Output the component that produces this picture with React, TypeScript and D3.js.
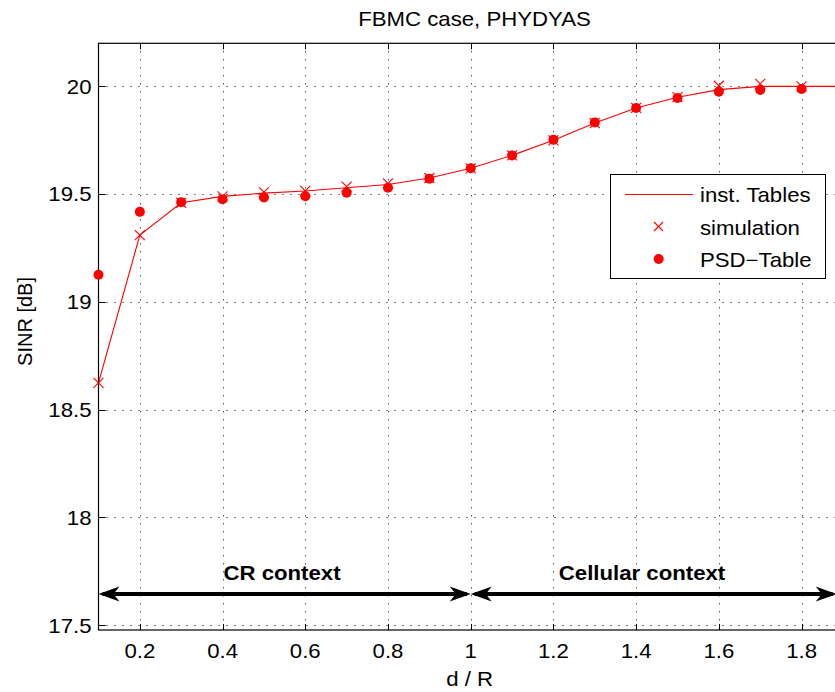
import React from "react";
import * as d3 from "d3";

const xs = [0.1, 0.2, 0.3, 0.4, 0.5, 0.6, 0.7, 0.8, 0.9, 1.0, 1.1, 1.2, 1.3, 1.4, 1.5, 1.6, 1.7, 1.8, 1.9, 2.0];
const instTables = [18.625, 19.31, 19.46, 19.49, 19.505, 19.515, 19.53, 19.545, 19.575, 19.62, 19.68, 19.75, 19.83, 19.9, 19.95, 19.985, 20.0, 20.0, 20.0, 20.0];
const simX = [0.1, 0.2, 0.3, 0.4, 0.5, 0.6, 0.7, 0.8, 0.9, 1.0, 1.1, 1.2, 1.3, 1.4, 1.5, 1.6, 1.7, 1.8];
const simulation = [18.625, 19.31, 19.46, 19.49, 19.51, 19.515, 19.535, 19.55, 19.575, 19.62, 19.68, 19.75, 19.83, 19.9, 19.95, 20.003, 20.012, 20.0];
const psdTable = [19.126, 19.418, 19.463, 19.477, 19.485, 19.49, 19.507, 19.53, 19.572, 19.62, 19.68, 19.752, 19.833, 19.9, 19.946, 19.975, 19.983, 19.988];
const xTicks = [0.2, 0.4, 0.6, 0.8, 1, 1.2, 1.4, 1.6, 1.8];
const yTicks = [17.5, 18, 18.5, 19, 19.5, 20];
const arrowY = 17.645;
const crArrow = [0.1, 1.0];
const cellArrow = [1.0, 1.885];

const W = 835, H = 692;
const left = 98.5, right = 884.3, top = 43.3, bottom = 630;
const FONT = "Liberation Sans, Arial, Helvetica, sans-serif";
const SX = 1.11;

function T(props: { x: number; y: number; anchor?: string; size?: number; bold?: boolean; children: React.ReactNode }) {
  return (
    <text
      transform={`translate(${props.x},${props.y}) scale(${SX},1)`}
      textAnchor={props.anchor || "start"}
      fontSize={props.size || 20}
      fontWeight={props.bold ? "bold" : "normal"}
      fill="#000"
    >
      {props.children}
    </text>
  );
}

export default function App() {
  const x = d3.scaleLinear().domain([0.1, 2.0]).range([left, right]);
  const y = d3.scaleLinear().domain([17.478, 20.2]).range([bottom, top]);
  const line = d3.line<number>().x((_, i) => x(xs[i])).y((v) => y(v));
  const red = "#ff0000";

  const arrow = (x1: number, x2: number, yy: number) => {
    const L = 21, hw = 7.5, back = 6;
    const a = x(x1), b = x(x2);
    const head = (tip: number, dir: number) =>
      `M${tip},${yy} L${tip + dir * L},${yy - hw} L${tip + dir * (L - back)},${yy} L${tip + dir * L},${yy + hw} Z`;
    return (
      <g>
        <line x1={a + 4} x2={b - 4} y1={yy} y2={yy} stroke="#000" strokeWidth={4.2} />
        <path d={head(a, 1)} fill="#000" />
        <path d={head(b, -1)} fill="#000" />
      </g>
    );
  };

  return (
    <svg width={W} height={H} style={{ position: "absolute", left: 0, top: 0, background: "#fff" }} fontFamily={FONT}>
      <rect x={0} y={0} width={W} height={H} fill="#fff" />
      <defs>
        <clipPath id="plot">
          <rect x={left} y={top} width={right - left} height={bottom - top} />
        </clipPath>
      </defs>
      {/* grid */}
      <g stroke="#000" strokeWidth={1} strokeDasharray="1,7">
        {xTicks.map((t) => (
          <line key={"gx" + t} x1={Math.round(x(t)) + 0.5} x2={Math.round(x(t)) + 0.5} y1={top} y2={bottom} />
        ))}
        {yTicks.map((t) => (
          <line key={"gy" + t} x1={left} x2={right} y1={Math.round(y(t)) + 0.5} y2={Math.round(y(t)) + 0.5} />
        ))}
      </g>
      {/* axes box */}
      <rect x={left} y={top} width={right - left} height={bottom - top} fill="none" stroke="#000" strokeWidth={1.2} />
      {/* ticks */}
      <g stroke="#000" strokeWidth={1}>
        {xTicks.map((t) => (
          <g key={"tx" + t}>
            <line x1={Math.round(x(t)) + 0.5} x2={Math.round(x(t)) + 0.5} y1={bottom} y2={bottom - 6} />
            <line x1={Math.round(x(t)) + 0.5} x2={Math.round(x(t)) + 0.5} y1={top} y2={top + 6} />
          </g>
        ))}
        {yTicks.map((t) => (
          <line key={"ty" + t} x1={left} x2={left + 7} y1={Math.round(y(t)) + 0.5} y2={Math.round(y(t)) + 0.5} />
        ))}
      </g>
      {/* tick labels */}
      {xTicks.map((t) => (
        <T key={"lx" + t} x={x(t)} y={658} anchor="middle">{d3.format("")(t)}</T>
      ))}
      {yTicks.map((t) => (
        <T key={"ly" + t} x={91.5} y={y(t) + 7.3} anchor="end">{d3.format("")(t)}</T>
      ))}
      <T x={469.7} y={685.5} anchor="middle">d / R</T>
      <text transform={`translate(32,321.5) rotate(-90)`} fontSize={20} textAnchor="middle" fill="#000">SINR [dB]</text>
      <T x={474.5} y={26} anchor="middle">FBMC case, PHYDYAS</T>

      {/* data */}
      <g clipPath="url(#plot)">
        <path d={line(instTables) || ""} fill="none" stroke={red} strokeWidth={1.1} />
      </g>
      <g stroke={red} strokeWidth={1.1}>
        {simX.map((xv, i) => {
          const cx = x(xv), cy = y(simulation[i]), s = 5;
          return (
            <g key={"s" + i}>
              <line x1={cx - s} x2={cx + s} y1={cy - s} y2={cy + s} />
              <line x1={cx - s} x2={cx + s} y1={cy + s} y2={cy - s} />
            </g>
          );
        })}
      </g>
      <g fill={red}>
        {simX.map((xv, i) => (
          <circle key={"p" + i} cx={x(xv)} cy={y(psdTable[i])} r={5} />
        ))}
      </g>

      {/* annotations */}
      {arrow(crArrow[0], crArrow[1], y(arrowY))}
      {arrow(cellArrow[0], cellArrow[1], y(arrowY))}
      <T x={282} y={580} anchor="middle" bold>CR context</T>
      <T x={642} y={580} anchor="middle" bold>Cellular context</T>

      {/* legend */}
      <g>
        <rect x={610.5} y={174.5} width={215} height={104} fill="#fff" stroke="#000" strokeWidth={1} />
        <line x1={625} x2={693} y1={194.5} y2={194.5} stroke={red} strokeWidth={1.1} />
        <g stroke={red} strokeWidth={1.1}>
          <line x1={654} x2={663} y1={222} y2={231} />
          <line x1={654} x2={663} y1={231} y2={222} />
        </g>
        <circle cx={658.7} cy={259} r={5} fill={red} />
        <T x={700} y={201.7}>inst. Tables</T>
        <T x={700} y={235}>simulation</T>
        <T x={700} y={266.7}>PSD−Table</T>
      </g>
    </svg>
  );
}
